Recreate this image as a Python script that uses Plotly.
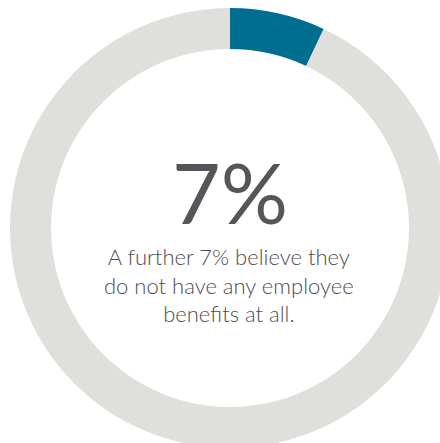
import plotly.graph_objects as go

labels = ["No employee benefits", "Other"]
values = [7, 93]
colors = ["#006F8F", "#DFDFDB"]
big_label = "7%"
body_text = "A further 7% believe they<br>do not have any employee<br>benefits at all."

W, H = 460, 456

fig = go.Figure(go.Pie(
    labels=labels,
    values=values,
    sort=False,
    direction="clockwise",
    rotation=0,
    hole=179 / 220,
    marker=dict(colors=colors, line=dict(width=0)),
    textinfo="none",
    hoverinfo="skip",
    showlegend=False,
    domain=dict(x=[10 / W, 450 / W], y=[0, 1]),
))

fig.add_annotation(
    x=0.5, y=1 - 191 / H, xref="paper", yref="paper",
    text=big_label, showarrow=False,
    font=dict(family="Lato", size=84, color="#58555A", weight=400),
    xanchor="center", yanchor="middle",
)
fig.add_annotation(
    x=229 / W, y=1 - 285 / H, xref="paper", yref="paper",
    text=body_text, showarrow=False, align="center",
    font=dict(family="Lato", size=22, color="#4F4C51", weight=300),
    xanchor="center", yanchor="middle",
)

fig.update_layout(
    width=W, height=H,
    margin=dict(l=0, r=0, t=0, b=0),
    paper_bgcolor="white",
    plot_bgcolor="white",
)

fig.write_html("out.html")
